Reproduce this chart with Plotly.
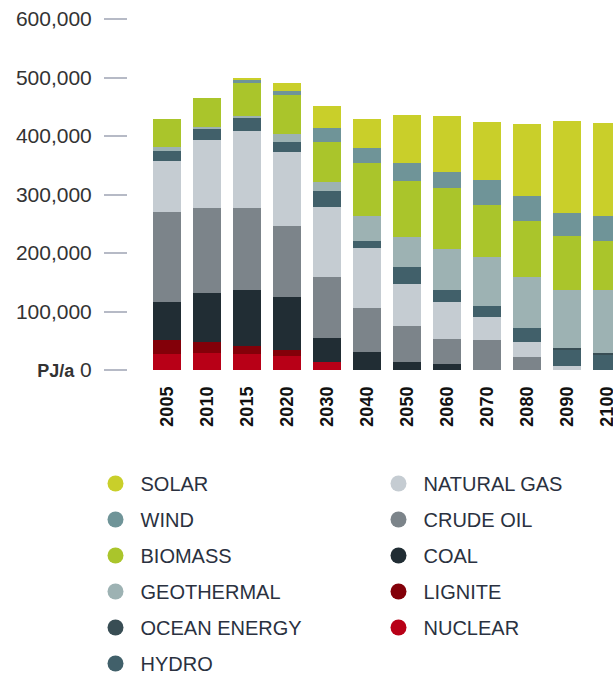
import plotly.graph_objects as go

# ---------------- data (thousand PJ/a) ----------------
years = ["2005", "2010", "2015", "2020", "2030", "2040",
         "2050", "2060", "2070", "2080", "2090", "2100"]

nuclear     = [26.8, 28.5, 26.8, 24.5, 14.3, 0, 0, 0, 0, 0, 0, 0]
lignite     = [24.5, 18.8, 14.8, 9.1, 0, 0, 0, 0, 0, 0, 0, 0]
coal        = [65.5, 83.8, 95.2, 90.6, 39.9, 31.4, 14.3, 10.3, 0, 0, 0, 0]
crude_oil   = [153.9, 145.4, 139.7, 122.6, 105.5, 74.1, 61.0, 42.2, 50.7, 22.8, 0, 0]
natural_gas = [87.2, 116.9, 132.8, 126.0, 118.6, 102.6, 71.8, 64.4, 39.9, 25.7, 7.4, 0]
hydro       = [17.1, 20.0, 21.0, 17.7, 28.5, 12.5, 29.6, 20.0, 19.4, 23.4, 27.0, 25.0]
ocean       = [0, 0, 0, 0, 0, 0, 0, 0, 0, 0, 4.0, 4.0]
geothermal  = [5.7, 2.0, 4.0, 13.7, 15.4, 43.3, 50.2, 69.5, 83.8, 86.6, 98.0, 107.0]
biomass     = [47.9, 49.6, 55.9, 66.1, 68.4, 89.5, 96.9, 105.5, 87.8, 96.9, 92.9, 84.9]
wind        = [0, 0, 6.8, 7.4, 22.8, 25.7, 29.6, 26.2, 43.9, 42.2, 38.8, 42.8]
solar       = [0, 0, 1.7, 12.5, 38.2, 49.6, 82.1, 95.8, 98.0, 122.6, 157.3, 159.0]

tick_values = [0, 100000, 200000, 300000, 400000, 500000, 600000]
tick_labels = ["<span style='font-size:18px'><b>PJ/a</b></span> 0",
               "100,000", "200,000", "300,000", "400,000", "500,000", "600,000"]

# stacking order bottom -> top
series = [
    ("NUCLEAR", nuclear, "#b80017"),
    ("LIGNITE", lignite, "#830009"),
    ("COAL", coal, "#212d34"),
    ("CRUDE OIL", crude_oil, "#7c848a"),
    ("NATURAL GAS", natural_gas, "#c5ccd2"),
    ("HYDRO", hydro, "#41606a"),
    ("OCEAN ENERGY", ocean, "#384d54"),
    ("GEOTHERMAL", geothermal, "#9db2b3"),
    ("BIOMASS", biomass, "#aac52b"),
    ("WIND", wind, "#6f9498"),
    ("SOLAR", solar, "#c9cf2a"),
]
left_col = ["SOLAR", "WIND", "BIOMASS", "GEOTHERMAL", "OCEAN ENERGY", "HYDRO"]
right_col = ["NATURAL GAS", "CRUDE OIL", "COAL", "LIGNITE", "NUCLEAR"]

FONT = "Liberation Sans, Arial, sans-serif"
colors = {n: c for n, _, c in series}

fig = go.Figure()
for name, vals, col in series:
    fig.add_trace(go.Bar(
        x=years, y=[v * 1000 for v in vals], name=name,
        marker=dict(color=col, line=dict(width=0)),
        showlegend=False,
    ))

for col_names, leg in ((left_col, "legend"), (right_col, "legend2")):
    for n in col_names:
        fig.add_trace(go.Scatter(
            x=[None], y=[None], mode="markers", name=n,
            marker=dict(size=19, color=colors[n]),
            legend=leg, legendgroup=n, showlegend=True, hoverinfo="skip",
        ))

W, H = 613, 674
ml, mr, mt, mb = 128, 0, 19, 304
pw, ph = W - ml - mr, H - mt - mb


def px_to_paper_x(px):
    return (px - ml) / pw


def px_to_paper_y(py):
    return (H - mb - py) / ph


legend_common = dict(
    orientation="v", xanchor="left", yanchor="top",
    font=dict(family=FONT, size=20, color="#2a3140"),
    tracegroupgap=7, itemsizing="trace", itemwidth=40,
    bgcolor="rgba(0,0,0,0)", traceorder="grouped",
)

fig.update_layout(
    width=W, height=H,
    margin=dict(l=ml, r=mr, t=mt, b=mb, autoexpand=False),
    barmode="stack", bargap=0.3,
    paper_bgcolor="white", plot_bgcolor="white",
    font=dict(family=FONT, color="#333333"),
    xaxis=dict(
        type="category", range=[-0.975, 11.15],
        showgrid=False, zeroline=False, showline=False, ticks="",
        tickangle=-90, tickfont=dict(family=FONT, size=18, color="#111111", weight="bold"),
        ticklabelstandoff=12, ticklabeloverflow="allow",
    ),
    yaxis=dict(
        range=[0, 600000], tickvals=tick_values, ticktext=tick_labels,
        showgrid=False, zeroline=False, showline=False,
        ticks="outside", ticklen=23, tickwidth=2, tickcolor="#b6bac6",
        tickfont=dict(family=FONT, size=21, color="#333333"),
        ticklabelstandoff=8, ticklabeloverflow="allow",
    ),
    legend=dict(x=px_to_paper_x(90.5), y=px_to_paper_y(464), **legend_common),
    legend2=dict(x=px_to_paper_x(373.5), y=px_to_paper_y(464), **legend_common),
)

fig.write_html(
    "out.html",
    config={"displayModeBar": False},
    post_script="document.body.style.margin='0';document.body.style.overflow='hidden';",
)
